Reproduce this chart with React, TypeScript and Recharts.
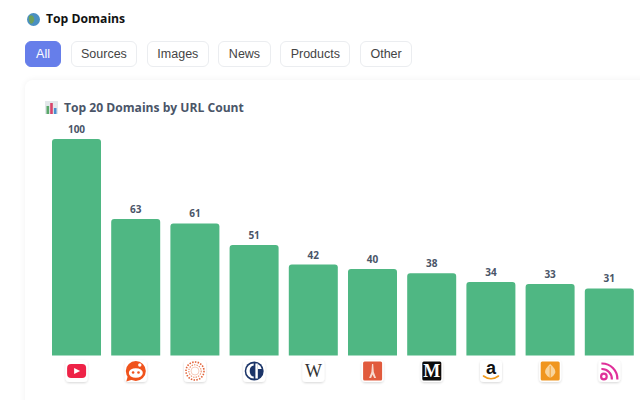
import { Bar, BarChart, LabelList, XAxis, YAxis } from "recharts";

const domains = [
  "youtube.com",
  "reddit.com",
  "perplexity.ai",
  "theguardian.com",
  "wikipedia.org",
  "parisinfo.com",
  "lemonde.fr",
  "amazon.com",
  "britannica.com",
  "feeds.com",
];
const urlCounts = [100, 63, 61, 51, 42, 40, 38, 34, 33, 31];
const filters = ["All", "Sources", "Images", "News", "Products", "Other"];

const chartData = domains.map((domain, i) => ({ domain, count: urlCounts[i] }));

const DomainGlyph = ({ domain }: { domain: string }) => {
  switch (domain) {
    case "youtube.com":
      return (
        <>
          <rect x={-9.5} y={-7} width={19} height={14} rx={4} fill="#ee2347" />
          <path d="M-2.5 -3 L3.5 0 L-2.5 3 Z" fill="#fff" />
        </>
      );
    case "reddit.com":
      return (
        <>
          <circle cx={0} cy={0} r={10} fill="#f0531c" />
          <path d="M-8 5 L-9.5 10.5 L-3 8.5 Z" fill="#f0531c" />
          <ellipse cx={0} cy={2} rx={7} ry={4.8} fill="#fff" />
          <circle cx={-2.7} cy={1.5} r={1.3} fill="#f0531c" />
          <circle cx={2.7} cy={1.5} r={1.3} fill="#f0531c" />
          <circle cx={4} cy={-6} r={1.7} fill="#fff" />
        </>
      );
    case "perplexity.ai":
      return (
        <>
          <circle r={9} fill="none" stroke="#e2643a" strokeWidth={1.6} strokeDasharray="1.5 1.3" />
          <circle r={6.2} fill="none" stroke="#e98b68" strokeWidth={1.1} strokeDasharray="1.4 1.1" />
          <circle r={4} fill="none" stroke="#f2b8a2" strokeWidth={0.7} />
        </>
      );
    case "theguardian.com":
      return (
        <>
          <circle r={9.5} fill="#1b3468" />
          <path d="M-0.5 -7.5 A7.5 7.5 0 0 0 -0.5 7.5 L-0.5 5.5 A4 5.5 0 0 1 -0.5 -5.5 Z" fill="#fff" />
          <rect x={1.2} y={-7.5} width={2.4} height={15} fill="#fff" />
          <path d="M3.6 -7 A7 7 0 0 1 7.5 -2 L3.6 -2 Z" fill="#fff" />
        </>
      );
    case "wikipedia.org":
      return (
        <text y={5.5} textAnchor="middle" fontFamily="Liberation Serif" fontSize={18} fill="#333">
          W
        </text>
      );
    case "parisinfo.com":
      return (
        <>
          <rect x={-9.5} y={-9.5} width={19} height={19} rx={1.5} fill="#e15a3c" />
          <path d="M-0.6 -7 L0.6 -7 L1.2 1 L3.5 7 L1.5 7 L0 3.5 L-1.5 7 L-3.5 7 L-1.2 1 Z" fill="#f8d8cc" />
        </>
      );
    case "lemonde.fr":
      return (
        <>
          <rect x={-9.5} y={-9.5} width={19} height={19} rx={1.5} fill="#0c0c0c" />
          <text y={6} textAnchor="middle" fontFamily="Liberation Serif" fontWeight={700} fontSize={18} fill="#fff">
            M
          </text>
        </>
      );
    case "amazon.com":
      return (
        <>
          <text y={3} textAnchor="middle" fontFamily="Liberation Sans" fontWeight={700} fontSize={18} fill="#111">
            a
          </text>
          <path d="M-7.5 5 Q0 10.5 7.5 5" fill="none" stroke="#f09a1a" strokeWidth={1.6} strokeLinecap="round" />
        </>
      );
    case "britannica.com":
      return (
        <>
          <rect x={-9.5} y={-9.5} width={19} height={19} rx={1.5} fill="#f0961f" />
          <path d="M0 -7 Q6 -2 5 2 Q3 6 0 7 Q-3 6 -5 2 Q-6 -2 0 -7 Z" fill="#f9d49c" />
          <path d="M0 -5 L0 7" stroke="#f0961f" strokeWidth={0.8} />
        </>
      );
    default:
      return (
        <>
          <circle cx={-5.5} cy={5.5} r={2.8} fill="none" stroke="#e0309a" strokeWidth={2.2} />
          <path d="M-8 -2 A10 10 0 0 1 2.5 8.5" fill="none" stroke="#e0309a" strokeWidth={2.2} />
          <path d="M-8 -7.5 A15.5 15.5 0 0 1 8 8.5" fill="none" stroke="#e0309a" strokeWidth={2.2} />
        </>
      );
  }
};

// favicon tile under each bar instead of a text tick
const DomainTick = ({ x, y, payload }: any) => (
  <g transform={`translate(${x},${y + 7.5})`}>
    <rect x={-11} y={-11} width={22} height={22} rx={4} fill="#fff" filter="url(#tileShadow)" />
    <DomainGlyph domain={payload.value} />
  </g>
);

const GlobeIcon = () => (
  <svg width={13} height={13} viewBox="0 0 13 13" style={{ position: "absolute", left: 27, top: 13 }}>
    <circle cx={6.5} cy={6.5} r={6.5} fill="#4a90c2" />
    <path d="M2 3 Q6 1 7 5 Q8 9 4 11 Q1 8 2 3 Z" fill="#6da05c" />
  </svg>
);

const ChartIcon = () => (
  <svg width={13} height={13} viewBox="0 0 13 13" style={{ position: "absolute", left: 45, top: 101 }}>
    <rect width={13} height={13} fill="#e3e7ea" />
    <rect x={1.5} y={5} width={2.6} height={8} fill="#5aa86a" />
    <rect x={5.2} y={2} width={2.6} height={11} fill="#d8436a" />
    <rect x={8.9} y={7} width={2.6} height={6} fill="#4a8fd0" />
  </svg>
);

export default function App() {
  return (
    <div
      style={{
        position: "absolute",
        left: 0,
        top: 0,
        width: 640,
        height: 400,
        overflow: "hidden",
        background: "#fff",
      }}
    >
      <GlobeIcon />
      <div
        style={{
          position: "absolute",
          left: 46,
          top: 10,
          fontFamily: "Open Sans",
          fontWeight: 700,
          fontSize: 12.2,
          lineHeight: "18px",
          color: "#111",
        }}
      >
        Top Domains
      </div>

      <div style={{ position: "absolute", left: 25, top: 41, display: "flex", gap: 9.5 }}>
        {filters.map((f, i) => (
          <div
            key={f}
            style={{
              height: 26,
              minWidth: 36,
              textAlign: "center",
              lineHeight: "24px",
              boxSizing: "border-box",
              padding: "0 9.5px",
              borderRadius: 6,
              border: `1px solid ${i === 0 ? "#667eea" : "#ebedf0"}`,
              background: i === 0 ? "#667eea" : "#fff",
              color: i === 0 ? "#fff" : "#444",
              fontFamily: "Liberation Sans",
              fontSize: 12.5,
            }}
          >
            {f}
          </div>
        ))}
      </div>

      <div
        style={{
          position: "absolute",
          left: 25,
          top: 80,
          width: 640,
          height: 340,
          borderRadius: 8,
          background: "#fff",
          boxShadow: "0 0 6px rgba(0,0,0,0.06)",
        }}
      />
      <ChartIcon />
      <div
        style={{
          position: "absolute",
          left: 64,
          top: 99,
          fontFamily: "Open Sans",
          fontWeight: 700,
          fontSize: 12.1,
          lineHeight: "18px",
          color: "#4a5568",
        }}
      >
        Top 20 Domains by URL Count
      </div>

      <div style={{ position: "absolute", left: 0, top: 0 }}>
        <BarChart
          width={640}
          height={400}
          data={chartData}
          margin={{ top: 139, right: 1, bottom: 0, left: 47 }}
          barCategoryGap={5}
        >
          <defs>
            <filter id="tileShadow" x="-30%" y="-30%" width="160%" height="160%">
              <feDropShadow dx={0} dy={1} stdDeviation={1.2} floodColor="#000" floodOpacity={0.16} />
            </filter>
          </defs>
          <YAxis hide domain={[0, 100]} />
          <XAxis
            dataKey="domain"
            height={44.5}
            axisLine={false}
            tickLine={false}
            interval={0}
            tick={<DomainTick />}
          />
          <Bar dataKey="count" fill="#4fb783" radius={[3, 3, 0, 0]} isAnimationActive={false}>
            <LabelList
              dataKey="count"
              position="top"
              offset={6}
              fill="#4a5568"
              fontSize={10}
              fontWeight={700}
              fontFamily="Open Sans"
            />
          </Bar>
        </BarChart>
      </div>
    </div>
  );
}
